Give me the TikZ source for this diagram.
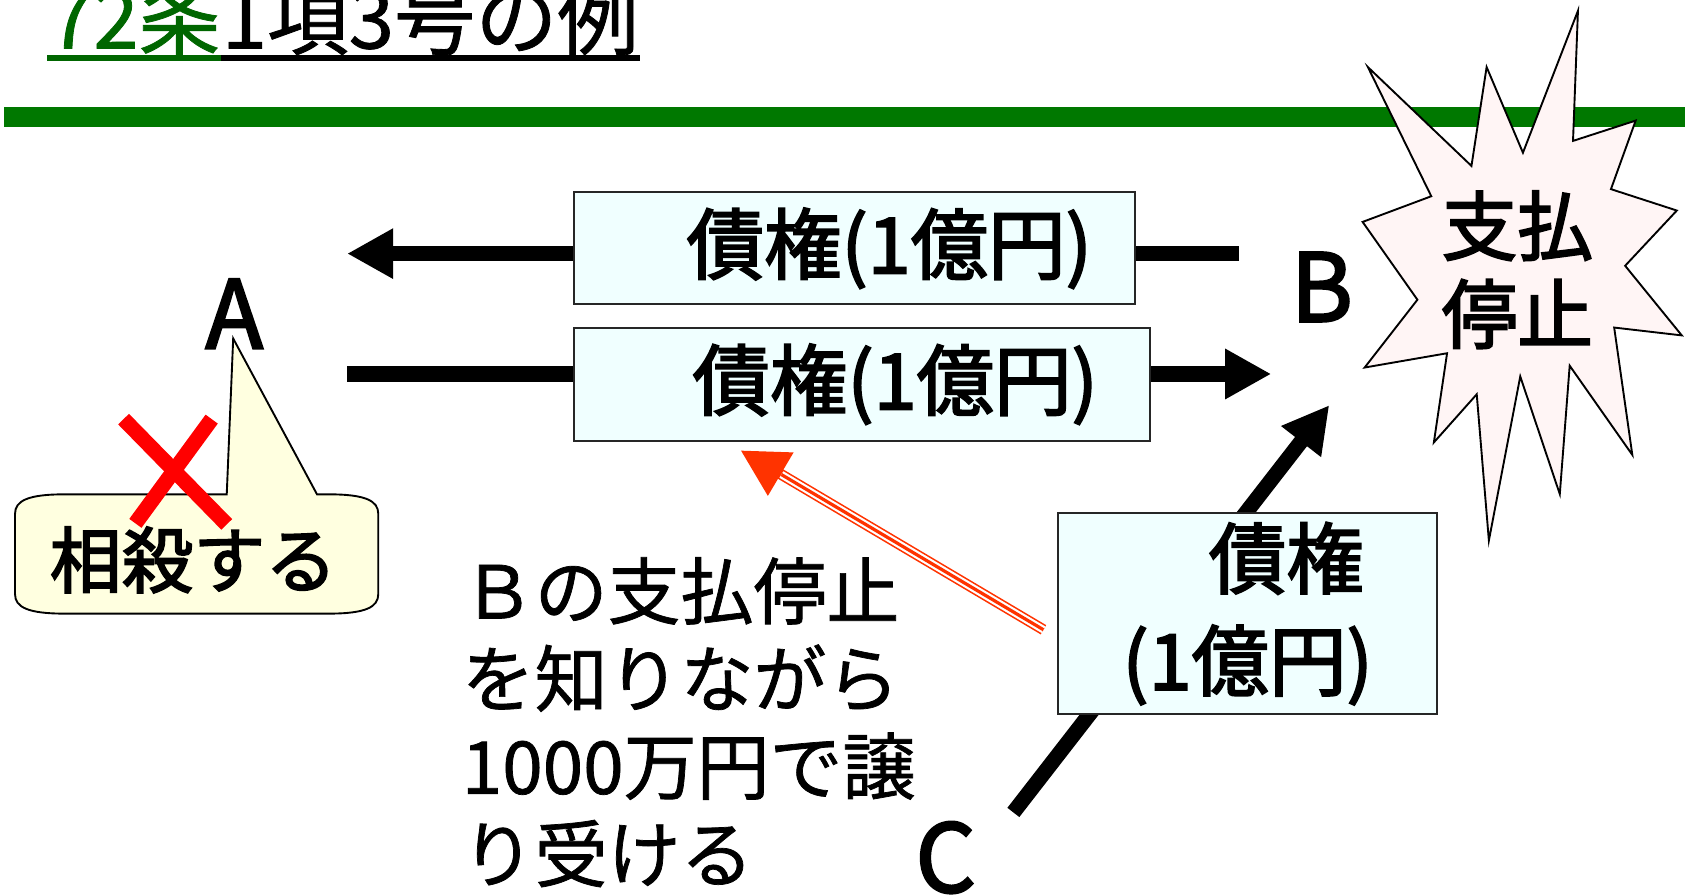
\documentclass[tikz,border=0pt]{standalone}
\usepackage{fontspec}
\usepackage{xcolor}
\usepackage{tikz}
\usetikzlibrary{arrows.meta, positioning, calc}

\newfontfamily\jp{Noto Sans CJK JP}[FakeBold=1]
\newfontfamily\jpb{Noto Sans CJK JP}[FakeBold=2.5]

\definecolor{boxfill}{HTML}{F0FFFF}
\definecolor{burstfill}{HTML}{FFF5F5}
\definecolor{notefill}{HTML}{FFFFE0}
\definecolor{bargreen}{HTML}{007800}
\definecolor{titlegreen}{HTML}{006600}
\definecolor{hintred}{HTML}{FF3300}

\begin{document}
\begin{tikzpicture}[
  x=0.01cm, y=-0.01cm,
  every node/.style={inner sep=0pt},
  claim/.style={draw=black!85, line width=0.5pt, fill=boxfill, font=\jpb\fontsize{20.5pt}{27pt}\selectfont, align=center},
  flow/.style={line width=4pt, -{Triangle[length=12.2pt, width=12.5pt]}},
  party/.style={font=\jpb\fontsize{25pt}{25pt}\selectfont},
  title/.style={anchor=base west, font=\jp\fontsize{21.6pt}{21.6pt}\selectfont}
]
\useasboundingbox (0,0) rectangle (1568,832);

% title and rule
\node[title, text=titlegreen] (artnum) at (44,45) {72条};
\node[title] (artrest) at (artnum.base east) {1項3号の例};
\draw[titlegreen, line width=1.5pt] ([yshift=-2.6pt]artnum.base west) -- ([yshift=-2.6pt]artnum.base east);
\draw[line width=1.5pt] ([yshift=-2.6pt]artrest.base west) -- ([yshift=-2.6pt]artrest.base east);
\fill[bargreen] (4,100) rectangle (1568,118);

% payment suspension burst
\draw[fill=burstfill, line width=0.5pt] (1468.4,10) -- (1463.8,131.1) -- (1522.1,112.2) -- (1499.1,176) -- (1560.4,195.9) -- (1512.3,247.3) -- (1565,312.1) -- (1502.1,304.8) -- (1519,423.3) -- (1460.7,340.3) -- (1451.5,459.8) -- (1414.7,350.3) -- (1385.5,503) -- (1374.2,366.9) -- (1334.3,411.7) -- (1346.6,328.7) -- (1269.9,342) -- (1319,278.9) -- (1268,206.5) -- (1331.9,182.6) -- (1272.9,62.4) -- (1369.3,154.4) -- (1383.4,62.4) -- (1417.2,142.1) -- cycle;
\node[font=\jpb\fontsize{20pt}{23.3pt}\selectfont, align=center] (halt) at (1412,251) {支払\\停止};

% parties
\node[party] (A) at (218,292) {A};
\node[party] (B) at (1230,267) {B};
\node[party] (C) at (880,798) {C};

% claims
\coordinate (upB) at (1153,236);
\coordinate (upA) at (323,236);
\coordinate (lowA) at (323,348);
\coordinate (lowB) at (1183,348);
\coordinate (cTail) at (943,756);
\coordinate (cTip) at (1237,377);
\draw[flow] (upB) -- (upA);
\draw[flow] (lowA) -- (lowB);
\draw[flow] (cTail) -- (cTip);

\node[claim, minimum width=5.22cm, minimum height=1.04cm] (claimBA) at (795,231) {\hspace*{0.65cm}債権(1億円)};
\node[claim, minimum width=5.36cm, minimum height=1.05cm] (claimAB) at (802,357.5) {\hspace*{0.62cm}債権(1億円)};
\node[claim, minimum width=3.52cm, minimum height=1.87cm] (claimCB) at (1161,571) {\hspace*{0.72cm}債権\\(1億円)};

% transfer hint
\coordinate (hintTail) at (971,586);
\coordinate (hintTip) at (689,419);
\draw[hintred, line width=2.85pt, -{Triangle[length=12.4pt, width=12.5pt]}] (hintTail) -- (hintTip);
\draw[white, line width=2pt, shorten >=12.6pt] (hintTail) -- (hintTip);
\draw[hintred, line width=0.85pt, shorten >=12.6pt] (hintTail) -- (hintTip);

% set-off callout
\draw[fill=notefill, line width=0.5pt] (211,460) -- (217,315) -- (295,460) -- (306,460) .. controls (340,460) and (352,466) .. (352,478) -- (352,553) .. controls (352,565) and (340,571) .. (306,571) -- (60,571) .. controls (26,571) and (14,565) .. (14,553) -- (14,478) .. controls (14,466) and (26,460) .. (60,460) -- cycle;
\draw[red, line width=4pt] (115,390) -- (211,488);
\draw[red, line width=4pt] (197,390) -- (126,487);
\node[font=\jpb\fontsize{19pt}{19pt}\selectfont] (setoff) at (180,521) {相殺する};

% note
\node[anchor=west, align=left, font=\jp\fontsize{19.3pt}{23.2pt}\selectfont] (note) at (429,672) {Ｂの支払停止\\を知りながら\\1000万円で譲\\り受ける};

\end{tikzpicture}
\end{document}
